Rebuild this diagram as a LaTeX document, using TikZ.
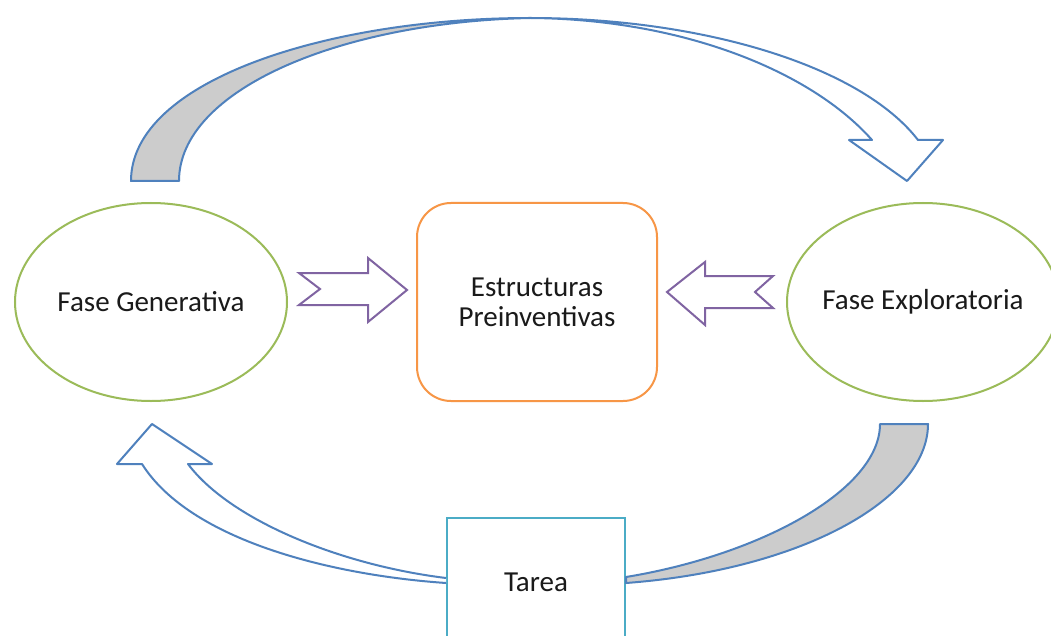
\documentclass[tikz,border=0pt]{standalone}
\usepackage{fontspec}
\setmainfont{Carlito}
\usetikzlibrary{shapes.geometric}
\definecolor{cgreen}{HTML}{9BBB59}
\definecolor{corange}{HTML}{F79646}
\definecolor{cblue}{HTML}{4F81BD}
\definecolor{cteal}{HTML}{4BACC6}
\definecolor{cpurple}{HTML}{8064A2}
\definecolor{cgray}{HTML}{CCCCCC}
\definecolor{ctext}{HTML}{1A1A1A}
\tikzset{
  phase/.style={draw=cgreen, line width=2pt, ellipse, minimum width=272pt, minimum height=198pt, inner sep=0pt, text=ctext, font=\fontsize{29}{30}\selectfont},
  core/.style={draw=corange, line width=2pt, rounded corners=34pt, minimum width=240pt, minimum height=198pt, align=center, text=ctext, font=\fontsize{29}{30}\selectfont},
  taskbox/.style={draw=cteal, line width=2pt, minimum width=178pt, minimum height=124pt, text=ctext},
  bluearrow/.style={draw=cblue, line width=2pt, line join=round},
  grayband/.style={draw=cblue, fill=cgray, line width=2pt, line join=round},
  purplearrow/.style={draw=cpurple, line width=2pt, line join=miter, fill=white}
}
\begin{document}
\begin{tikzpicture}[x=1pt,y=-1pt]
\useasboundingbox (0,0) rectangle (1051,636);
\fill[white] (0,0) rectangle (1051,636);
% nodes
\node[phase] (gen) at (151,302) {\makebox[0pt]{Fase Generativa}};
\node[phase] (exp) at (923,302) {\makebox[0pt]{Fase Exploratoria}};
\node[core] (est) at (537,302) {Estructuras\\Preinventivas};
\node[taskbox] (tar) at (536,580) {};
\node[text=ctext, font=\fontsize{29}{30}\selectfont] (tartext) at (536,582) {Tarea};
% top arc: gray back band
\coordinate (tl1) at (131,181);
\coordinate (tl2) at (179,181);
\coordinate (ttop) at (530,18);
\draw[grayband] (tl1) .. controls (131,80) and (330,18) .. (ttop)
  .. controls (340,22) and (179,90) .. (tl2) -- cycle;
% top arc: front shaft and head
\draw[bluearrow, fill=white] (ttop) .. controls (700,18) and (860,65) .. (918,140)
  -- (943,140) -- (907,181) -- (849,140) -- (872,140)
  .. controls (810,70) and (680,19) .. (ttop);
% bottom right gray band
\coordinate (br1) at (880,424);
\coordinate (br2) at (928,424);
\draw[grayband] (br1) -- (br2) .. controls (928,500) and (800,570) .. (tar.east |- 0,583)
  -- (tar.east |- 0,577) .. controls (760,555) and (880,490) .. (br1) -- cycle;
% bottom left white arrow
\draw[bluearrow, fill=white] (tar.west |- 0,583) .. controls (330,575) and (190,540) .. (142,464)
  -- (117,464) -- (152,424) -- (212,464) -- (188,464)
  .. controls (230,520) and (340,565) .. (tar.west |- 0,578);
% purple notched arrows
\draw[purplearrow] (299,273) -- (368,273) -- (368,258) -- (407,290) -- (368,322) -- (368,305) -- (299,305) -- (320,289) -- cycle;
\draw[purplearrow] (667,292) -- (705,262) -- (705,276) -- (773,276) -- (755,292) -- (773,308) -- (705,308) -- (705,325) -- cycle;
\end{tikzpicture}
\end{document}
